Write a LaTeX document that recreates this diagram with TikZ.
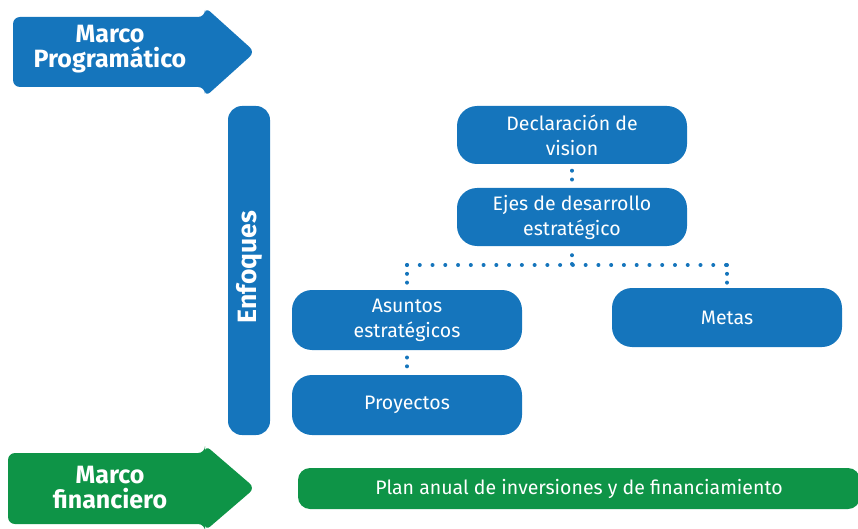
\documentclass[tikz,border=0pt]{standalone}
\usepackage{fontspec}
\setmainfont{Fira Sans}
\begin{document}
\begin{tikzpicture}[x=1pt,y=-1pt,
  box/.style={fill=bluec,draw=none,rounded corners=20pt,text=white,font=\fontsize{19.5}{25}\selectfont,align=center,inner sep=0pt},
  dots/.style={draw=bluec,line width=4pt,line cap=round,dash pattern=on 0.01pt off 12.75pt},
  vdots/.style={draw=bluec,line width=4pt,line cap=round,dash pattern=on 0.01pt off 8.8pt},
  bigtxt/.style={text=white,font=\bfseries\fontsize{25}{25}\selectfont,align=center}]
\definecolor{bluec}{HTML}{1575BC}
\definecolor{greenc}{HTML}{0E9447}
\useasboundingbox (0,0) rectangle (858,529);
% blue arrow
\fill[bluec,rounded corners=7pt] (13,17) -- (205,17) -- (205,7) -- (255,52) -- (205,97) -- (205,87) -- (13,87) -- cycle;
\node[bigtxt] (mp) at (110,49) {Marco\\Programático};
% green arrow
\fill[greenc,rounded corners=7pt] (8,453) -- (205,453) -- (205,445) -- (255,488) -- (205,531) -- (205,524) -- (8,524) -- cycle;
\node[bigtxt] (mf) at (110,488) {Marco\\financiero};
% enfoques bar
\node[fill=bluec,rounded corners=14pt,minimum width=42pt,minimum height=329pt,inner sep=0pt] (enf) at (249,270.5) {};
\node[text=white,font=\bfseries\fontsize{26.5}{26}\selectfont,rotate=90] (enft) at (249,267) {Enfoques};
% boxes
\node[box,minimum width=230pt,minimum height=58pt] (decl) at (572,135) {Declaración de\\vision};
\node[box,minimum width=230pt,minimum height=58pt] (ejes) at (572,217) {Ejes de desarrollo\\estratégico};
\node[box,minimum width=230pt,minimum height=60pt] (asun) at (407,320) {Asuntos\\estratégicos};
\node[box,minimum width=230pt,minimum height=59pt] (metas) at (727,317.5) {Metas};
\node[box,minimum width=230pt,minimum height=60pt] (proy) at (407,405) {Proyectos};
\node[box,fill=greenc,rounded corners=12pt,minimum width=562pt,minimum height=41pt] (plan) at (579,488.5) {Plan anual de inversiones y de financiamiento};
% connectors
\coordinate (jc) at (572,265);
\coordinate (jl) at (407,265);
\coordinate (jr) at (727,265);
\coordinate (ae) at (407,283.5);
\coordinate (me) at (727,283.5);
\coordinate (as) at (407,357.5);
\coordinate (pe) at (407,367);
\draw[vdots] ([yshift=-6.5pt]decl.south) -- ([yshift=7pt]ejes.north);
\draw[vdots] ([yshift=-9pt]ejes.south) -- (jc);
\draw[dots] (jl) -- (jr);
\draw[vdots] (jl) -- (ae);
\draw[vdots] (jr) -- (me);
\draw[vdots] (as) -- (pe);
\end{tikzpicture}
\end{document}
